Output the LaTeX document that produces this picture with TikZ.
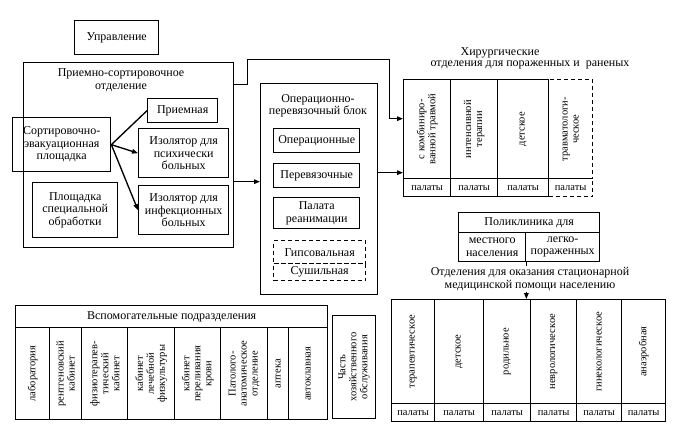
\documentclass[tikz,border=0pt]{standalone}
\usepackage{fontspec}
\setmainfont{Liberation Serif}
\usetikzlibrary{arrows.meta,calc}
\tikzset{
  lw/.style={line width=1.35pt},
  cell/.style={draw, lw, anchor=north west, inner sep=0pt},
  dcell/.style={cell, dash pattern=on 4pt off 3pt},
  txt/.style={align=center, inner sep=1pt, font=\fontsize{12}{12.5}\selectfont},
  vtxt/.style={align=center, inner sep=0pt, rotate=90, font=\fontsize{10.5}{11}\selectfont},
  stxt/.style={inner sep=0pt, font=\fontsize{10.5}{11}\selectfont},
  arr/.style={lw, -{Triangle[length=6pt,width=4.5pt]}},
  ln/.style={lw}
}
\newcommand\myvcell[7][cell]{%
  \node[#1, minimum width=#5, minimum height=#6] (#2) at (#3,#4) {};
  \node[vtxt] (#2t) at (#2.center) {#7};}
\newcommand\mypcell[6][cell]{%
  \node[#1, minimum width=#5, minimum height=#6] (#2) at (#3,#4) {};
  \node[stxt] (#2t) at (#2.center) {палаты};}
\begin{document}
\begin{tikzpicture}[x=1pt,y=-1pt]
\useasboundingbox (0,0) rectangle (680,428);

% Управление
\node[cell, minimum width=84, minimum height=34] (upr) at (74,20) {};
\node[txt] (uprt) at (upr.center) {Управление};

% Приемно-сортировочное отделение
\node[cell, minimum width=210, minimum height=185] (prs) at (23,62) {};
\node[txt] (prst) at (121,80) {Приемно-сортировочное\\отделение};
\node[cell, minimum width=98, minimum height=54] (sort) at (12,117) {};
\node[txt] (sortt) at (sort.center) {Сортировочно-\\эвакуационная\\площадка};
\node[cell, minimum width=70, minimum height=24] (prm) at (147,98) {};
\node[txt] (prmt) at (prm.center) {Приемная};
\node[cell, minimum width=90, minimum height=49] (iz1) at (138,128) {};
\node[txt] (iz1t) at (iz1.center) {Изолятор для\\психически\\больных};
\node[cell, minimum width=90, minimum height=49] (iz2) at (138,185) {};
\node[txt] (iz2t) at (iz2.center) {Изолятор для\\инфекционных\\больных};
\node[cell, minimum width=85, minimum height=55] (pso) at (32,182) {};
\node[txt] (psot) at (pso.center) {Площадка\\специальной\\обработки};

\draw[ln] (sort.east) -- (prm.west);
\draw[arr] (sort.east) -- (iz1.west);
\draw[arr] (sort.east) -- (iz2.west);

% Операционно-перевязочный блок
\node[cell, minimum width=117, minimum height=211] (op) at (260,83) {};
\node[txt] (opt) at (318,106) {Операционно-\\перевязочный блок};
\node[cell, minimum width=86, minimum height=24] (opr) at (273,128) {};
\node[txt] (oprt) at (opr.center) {Операционные};
\node[cell, minimum width=86, minimum height=24] (per) at (273,163) {};
\node[txt] (pert) at (per.center) {Перевязочные};
\node[cell, minimum width=86, minimum height=31] (rea) at (273,197) {};
\node[txt] (reat) at (rea.center) {Палата\\реанимации};
\node[dcell, minimum width=92, minimum height=23] (gip) at (273,240) {};
\node[txt] (gipt) at (gip.center) {Гипсовальная};
\node[dcell, minimum width=92, minimum height=17] (sus) at (273,263) {};
\node[txt] (sust) at (sus.center) {Сушильная};

% Хирургические отделения
\node[txt] (hir1) at (500,53) {Хирургические};
\node[txt] (hir2) at (530,65) {отделения для пораженных и~~раненых};
\myvcell{s1}{403}{79}{47}{99}{с комбиниро-\\ванной травмой}
\myvcell{s2}{450}{79}{47}{99}{интенсивной\\терапии}
\myvcell{s3}{497}{79}{51}{99}{детское}
\myvcell[dcell]{s4}{548}{79}{44}{99}{травматологи-\\ческое}
\mypcell{p1}{403}{178}{47}{18}
\mypcell{p2}{450}{178}{47}{18}
\mypcell{p3}{497}{178}{51}{18}
\mypcell[dcell]{p4}{548}{178}{44}{18}

% connectors
\coordinate (a1) at ([yshift=-26.5pt]prs.east);
\draw[arr] (a1) -- (a1 -| op.west);
\coordinate (a2) at ([yshift=16.5pt]op.east);
\draw[arr] (a2) -- (a2 -| s1.west);
\coordinate (a3) at ([yshift=70.5pt]prs.east);
\coordinate (a4) at ([yshift=10.5pt]s1.west);
\draw[arr] (a3) -- ++(13,0) -- ++(0,-25) -- ++(142,0) |- (a4);

% Поликлиника
\node[cell, minimum width=141, minimum height=20] (pol) at (458,212) {};
\node[txt] (polt) at (pol.center) {Поликлиника для};
\node[cell, minimum width=67, minimum height=29] (pol1) at (458,232) {};
\node[txt] (pol1t) at (pol1.center) {местного\\населения};
\node[cell, minimum width=74, minimum height=29] (pol2) at (525,232) {};
\node[txt] (pol2t) at (pol2.center) {легко-\\пораженных};

% Стационарные отделения
\myvcell{st1}{391}{299}{43}{104}{терапевтическое}
\myvcell{st2}{434}{299}{49}{104}{детское}
\myvcell{st3}{483}{299}{47}{104}{родильное}
\myvcell{st4}{530}{299}{46}{104}{неврологическое}
\myvcell{st5}{576}{299}{45}{104}{гинекологическое}
\myvcell{st6}{621}{299}{44}{104}{анаэробная}
\mypcell{q1}{391}{403}{43}{18}
\mypcell{q2}{434}{403}{49}{18}
\mypcell{q3}{483}{403}{47}{18}
\mypcell{q4}{530}{403}{46}{18}
\mypcell{q5}{576}{403}{45}{18}
\mypcell{q6}{621}{403}{44}{18}

\draw[arr] (pol1.south east) -- (pol1.south east |- st3.north);
\node[txt, fill=white] (otd) at (530,279) {Отделения для оказания стационарной\\медицинской помощи населению};

% Часть хозяйственного обслуживания
\myvcell{hoz}{332}{315}{43}{103}{Часть\\хозяйственного\\обслуживания}

% Вспомогательные подразделения
\node[cell, minimum width=312, minimum height=22] (vsp) at (15,305) {};
\node[txt] (vspt) at (vsp.center) {Вспомогательные подразделения};
\myvcell{v1}{15}{327}{34}{92}{лаборатория}
\myvcell{v2}{49}{327}{32}{92}{рентгеновский\\кабинет}
\myvcell{v3}{81}{327}{46}{92}{физиотерапев-\\тический\\кабинет}
\myvcell{v4}{127}{327}{47}{92}{кабинет\\лечебной\\физкультуры}
\myvcell{v5}{174}{327}{46}{92}{кабинет\\переливания\\крови}
\myvcell{v6}{220}{327}{47}{92}{Патолого-\\анатомическое\\отделение}
\myvcell{v7}{267}{327}{21}{92}{аптека}
\myvcell{v8}{288}{327}{39}{92}{автоклавная}
\end{tikzpicture}
\end{document}
